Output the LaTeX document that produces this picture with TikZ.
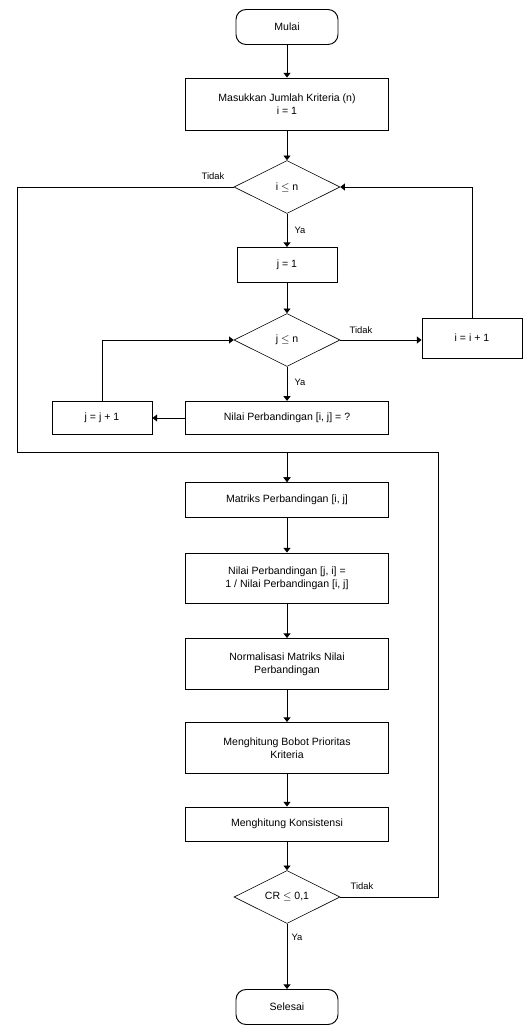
\documentclass[tikz,border=0pt]{standalone}
\usepackage{fontspec}
\setmainfont{Liberation Sans}
\usetikzlibrary{shapes.geometric, arrows.meta, positioning, calc}

\tikzset{
  prosesbox/.style={draw, line width=0.8pt, minimum width=61mm, align=center, inner sep=2pt, font=\small},
  kecilbox/.style={draw, line width=0.8pt, minimum width=30mm, align=center, inner sep=2pt, font=\small},
  keputusan/.style={draw, diamond, aspect=2, line width=0.5pt, minimum width=31.8mm, minimum height=15.9mm, inner sep=0pt, font=\small},
  terminal/.style={draw, rounded corners=3mm, line width=0.8pt, minimum width=30.6mm, minimum height=10.5mm, font=\small},
  panah/.style={-{Triangle[width=6pt,length=4pt]}, line width=0.8pt},
  label/.style={font=\footnotesize}
}

\begin{document}
\begin{tikzpicture}[x=0.3mm, y=-0.3mm]
  \useasboundingbox (0,0) rectangle (524,1026);

  % Mulai dan input
  \node[terminal] (mulai) at (287, 27) {Mulai};
  \node[prosesbox, minimum height=15.6mm] (input) at (287, 104) {Masukkan Jumlah Kriteria (n)\\i = 1};

  % Perulangan i
  \node[keputusan] (cekI) at (287, 187) {i $\le$ n};
  \node[kecilbox, minimum height=10.5mm] (setJ) at (287, 265) {j = 1};

  % Perulangan j
  \node[keputusan] (cekJ) at (287, 340) {j $\le$ n};
  \node[kecilbox, minimum height=12mm] (tambahI) at (472, 338) {i = i + 1};
  \node[prosesbox, minimum height=10mm] (nilai) at (287, 418) {Nilai Perbandingan [i, j] = ?};
  \node[kecilbox, minimum height=10mm] (tambahJ) at (102, 418) {j = j + 1};

  \coordinate (kiri) at (17, 452);
  \coordinate (kanan) at (438, 452);

  % Perhitungan bobot
  \node[prosesbox, minimum height=10.5mm] (matriks) at (287, 500) {Matriks Perbandingan [i, j]};
  \node[prosesbox, minimum height=15mm] (kebalikan) at (287, 578) {Nilai Perbandingan [j, i] =\\1 / Nilai Perbandingan [i, j]};
  \node[prosesbox, minimum height=15.3mm] (normal) at (287, 664) {Normalisasi Matriks Nilai\\Perbandingan};
  \node[prosesbox, minimum height=15.3mm] (bobot) at (287, 748) {Menghitung Bobot Prioritas\\Kriteria};
  \node[prosesbox, minimum height=10.2mm] (konsisten) at (287, 824) {Menghitung Konsistensi};
  \node[keputusan] (cekCR) at (287, 897) {CR $\le$ 0,1};
  \node[terminal] (selesai) at (287, 1007) {Selesai};

  % Panah
  \draw[panah] (mulai) -- (input);
  \draw[panah] (input) -- (cekI);
  \draw[panah] (cekI) -- (setJ);
  \draw[panah] (setJ) -- (cekJ);
  \draw[panah] (cekJ) -- (nilai);
  \draw[panah] (cekJ.east) -- (cekJ.east -| tambahI.west);
  \draw[panah] (nilai) -- (tambahJ);
  \draw[panah] (tambahJ.north) |- (cekJ.west);
  \draw[panah] (tambahI.north) |- (cekI.east);
  \draw[panah] (cekI.west) -| (kiri) -| (matriks.north);
  \draw[panah] (cekCR.east) -| (kanan) -| (matriks.north);
  \draw[panah] (matriks) -- (kebalikan);
  \draw[panah] (kebalikan) -- (normal);
  \draw[panah] (normal) -- (bobot);
  \draw[panah] (bobot) -- (konsisten);
  \draw[panah] (konsisten) -- (cekCR);
  \draw[panah] (cekCR) -- (selesai);

  % Label
  \node[label] at (213, 176) {Tidak};
  \node[label] at (300, 230) {Ya};
  \node[label] at (361, 330) {Tidak};
  \node[label] at (300, 382) {Ya};
  \node[label] at (362, 886) {Tidak};
  \node[label] at (297, 937) {Ya};
\end{tikzpicture}
\end{document}
